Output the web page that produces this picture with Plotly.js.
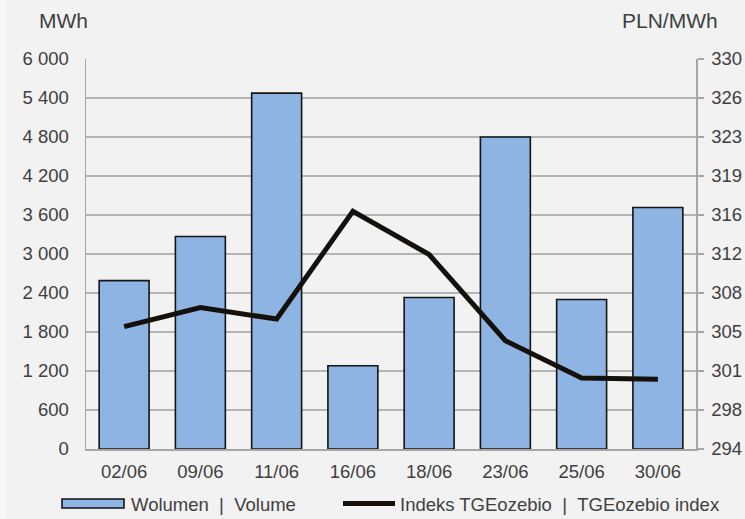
<!DOCTYPE html>
<html>
<head>
<meta charset="utf-8">
<script src="https://cdn.plot.ly/plotly-3.0.1.min.js"></script>
<style>
html,body{margin:0;padding:0;background:#f2f2f2;}
#chart{width:745px;height:519px;}
</style>
</head>
<body>
<div id="chart"></div>
<script>
// Data
const dates = ['02/06','09/06','11/06','16/06','18/06','23/06','25/06','30/06'];
const volume = [2590, 3270, 5475, 1280, 2330, 4800, 2300, 3715];
const indexPrice = [305.3, 307.05, 306.0, 315.95, 311.95, 304.0, 300.55, 300.45];
const leftTickVals = [0,600,1200,1800,2400,3000,3600,4200,4800,5400,6000];
const leftTickText = ['0','600','1 200','1 800','2 400','3 000','3 600','4 200','4 800','5 400','6 000'];
const rightTickVals = [294,297.6,301.2,304.8,308.4,312,315.6,319.2,322.8,326.4,330];
const rightTickText = ['294','298','301','305','308','312','316','319','323','326','330'];
const seriesNames = ['Wolumen\u00a0\u00a0|\u00a0\u00a0Volume','Indeks TGEozebio\u00a0\u00a0|\u00a0\u00a0TGEozebio index'];
const leftUnit = 'MWh';
const rightUnit = 'PLN/MWh';

const fam = '"Liberation Sans", Arial, sans-serif';
const font = {family:fam, size:18.5, color:'#404040'};
const unitFont = {family:fam, size:21, color:'#404040'};

const traces = [
  {type:'bar', x:dates, y:volume, name:seriesNames[0], yaxis:'y',
   marker:{color:'#8eb4e3', line:{color:'#161410', width:1.6}}, showlegend:false},
  {type:'scatter', mode:'lines', x:dates, y:indexPrice, name:seriesNames[1], yaxis:'y2',
   line:{color:'#14110d', width:5}, showlegend:false}
];

const W = 745, H = 519, L = 86, R = 49, T = 59, B = 70;
const pw = W - L - R, ph = H - T - B;
const px = v => (v - L) / pw;
const py = v => (H - B - v) / ph;

const layout = {
  width:W, height:H,
  margin:{l:L, r:R, t:T, b:B, pad:0},
  paper_bgcolor:'#f2f2f2', plot_bgcolor:'#f2f2f2',
  font:font,
  bargap:0.345,
  showlegend:false,
  xaxis:{type:'category', showgrid:false, showline:true, linecolor:'#a6a6a6', linewidth:1.5,
         ticks:'outside', ticklen:5, tickcolor:'rgba(0,0,0,0)', tickfont:font, zeroline:false,
         mirror:false},
  yaxis:{range:[0,6000], tickvals:leftTickVals, ticktext:leftTickText, showgrid:true,
         gridcolor:'#b4b4b4', gridwidth:1.5, showline:true, linecolor:'#a6a6a6', linewidth:1.5,
         ticks:'outside', ticklen:12, tickcolor:'rgba(0,0,0,0)', zeroline:false, tickfont:font},
  yaxis2:{range:[294,330], tickvals:rightTickVals, ticktext:rightTickText, overlaying:'y', side:'right',
          showgrid:false, showline:true, linecolor:'#a6a6a6', linewidth:1.5,
          ticks:'outside', ticklen:6, tickcolor:'#a6a6a6', tickwidth:1.5, zeroline:false, tickfont:font,
          ticklabelstandoff:4},
  shapes:[
    {type:'rect', xref:'paper', yref:'paper', x0:px(0), x1:px(6), y0:py(H), y1:py(0),
     fillcolor:'#f8f8f8', line:{width:0}, layer:'below'},
    {type:'rect', xref:'paper', yref:'paper', x0:px(62), x1:px(124), y0:py(508), y1:py(499),
     fillcolor:'#8eb4e3', line:{color:'#161410', width:1.6}},
    {type:'line', xref:'paper', yref:'paper', x0:px(343), x1:px(395), y0:py(503.5), y1:py(503.5),
     line:{color:'#14110d', width:5}}
  ],
  annotations:[
    {xref:'paper', yref:'paper', x:px(129), y:py(504), xanchor:'left', yanchor:'middle', text:seriesNames[0], showarrow:false, font:font},
    {xref:'paper', yref:'paper', x:px(398), y:py(504), xanchor:'left', yanchor:'middle', text:seriesNames[1], showarrow:false, font:font},
    {xref:'paper', yref:'paper', x:px(37), y:py(21), xanchor:'left', yanchor:'middle', text:leftUnit, showarrow:false, font:unitFont},
    {xref:'paper', yref:'paper', x:px(720), y:py(21), xanchor:'right', yanchor:'middle', text:rightUnit, showarrow:false, font:unitFont}
  ]
};

Plotly.newPlot('chart', traces, layout, {displayModeBar:false, staticPlot:true});
</script>
</body>
</html>
